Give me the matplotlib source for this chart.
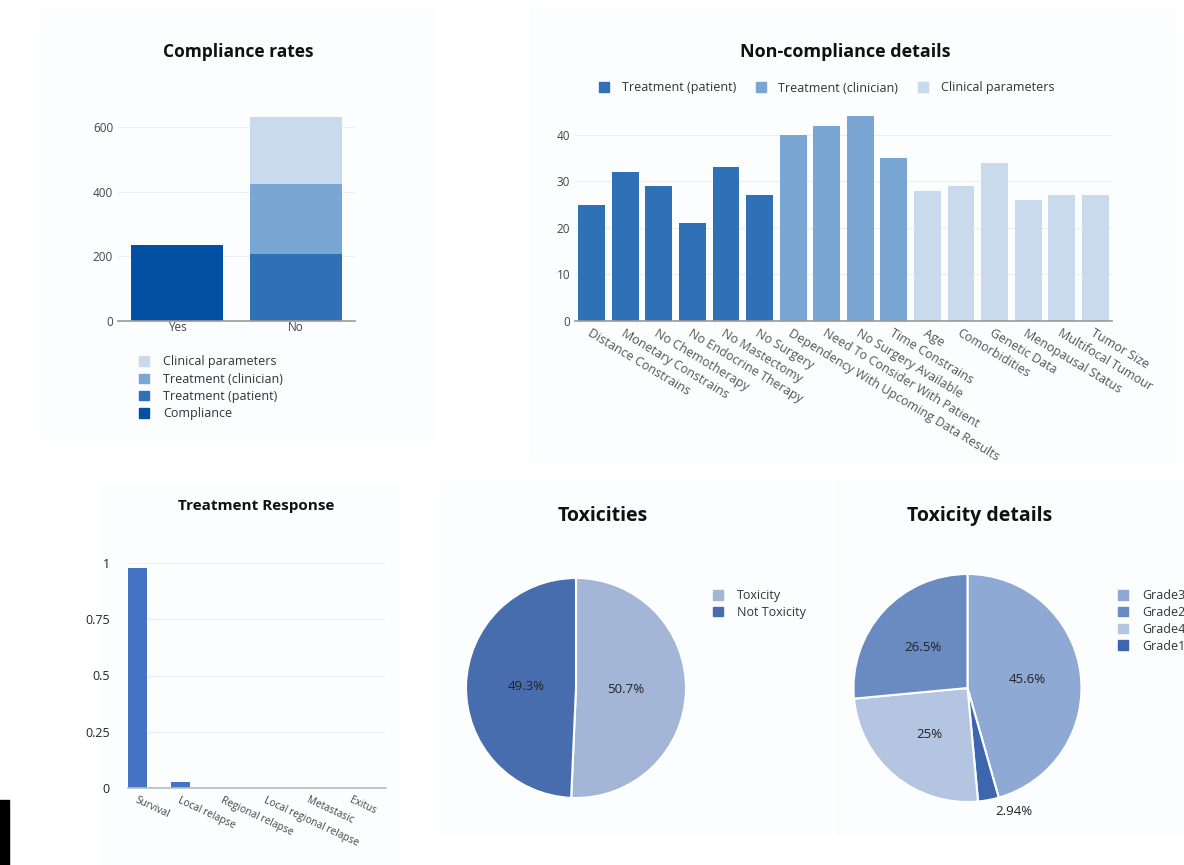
import matplotlib
matplotlib.use("Agg")
import matplotlib.pyplot as plt
from matplotlib.patches import Patch, Rectangle
import numpy as np

plt.rcParams["font.family"] = ["Open Sans", "DejaVu Sans"]

# ---------------- data ----------------
comp_cats = ["Yes", "No"]
comp_compliance = [236, 0]
comp_patient = [0, 208]
comp_clinician = [0, 215]
comp_clinical = [0, 208]

detail_labels = ["Distance Constrains", "Monetary Constrains", "No Chemotherapy",
                 "No Endocrine Therapy", "No Mastectomy", "No Surgery",
                 "Dependency With Upcoming Data Results", "Need To Consider With Patient",
                 "No Surgery Available", "Time Constrains",
                 "Age", "Comorbidities", "Genetic Data", "Menopausal Status",
                 "Multifocal Tumour", "Tumor Size"]
detail_values = [25, 32, 29, 21, 33, 27, 40, 42, 44, 35, 28, 29, 34, 26, 27, 27]
detail_group = ["patient"] * 6 + ["clinician"] * 4 + ["clinical"] * 6

resp_labels = ["Survival", "Local relapse", "Regional relapse",
               "Local regional relapse", "Metastasic", "Exitus"]
resp_values = [0.98, 0.027, 0, 0, 0, 0]

tox_labels = ["Toxicity", "Not Toxicity"]
tox_values = [50.7, 49.3]

grade_labels = ["Grade3", "Grade1", "Grade4", "Grade2"]
grade_values = [45.6, 2.94, 25.0, 26.5]
grade_legend_order = ["Grade3", "Grade2", "Grade4", "Grade1"]

# ---------------- colours ----------------
C_COMPLIANCE = "#0250a3"
C_PATIENT = "#2f70b7"
C_CLINICIAN = "#7aa6d3"
C_CLINICAL = "#c9daed"
group_colors = {"patient": C_PATIENT, "clinician": C_CLINICIAN, "clinical": C_CLINICAL}
tox_colors = ["#a3b6d8", "#486dae"]
grade_colors = {"Grade3": "#8ea9d3", "Grade1": "#3e66ae", "Grade4": "#b4c5e1", "Grade2": "#6a8bc1"}

W, H = 1184, 865
fig = plt.figure(figsize=(W / 100, H / 100), dpi=100)
fig.patch.set_facecolor("white")


def px_axes(x0, y0, x1, y1):
    return fig.add_axes([x0 / W, 1 - y1 / H, (x1 - x0) / W, (y1 - y0) / H])


def fx(x):
    return x / W


def fy(y):
    return 1 - y / H


# faint panel backgrounds (screenshot look)
for (x0, y0, x1, y1) in [(40, 8, 435, 440), (530, 8, 1175, 460), (100, 485, 400, 865),
                         (440, 480, 830, 835), (835, 480, 1184, 835)]:
    fig.patches.append(Rectangle((fx(x0), fy(y1)), (x1 - x0) / W, (y1 - y0) / H,
                                 transform=fig.transFigure, color="#fcfdfe", zorder=-5))
fig.patches.append(Rectangle((0, 0), 9 / W, 65 / H, transform=fig.transFigure,
                             color="black", zorder=5))

TICK_C = "#444444"
GRID_C = "#eeeeee"
LEG_FS = 9


def style_bar_axes(ax):
    ax.set_facecolor("none")
    for s in ["top", "right", "left"]:
        ax.spines[s].set_visible(False)
    ax.spines["bottom"].set_color("#999999")
    ax.spines["bottom"].set_linewidth(1.2)
    ax.yaxis.grid(True, color=GRID_C, linewidth=0.8)
    ax.set_axisbelow(True)
    ax.tick_params(axis="y", length=0, colors=TICK_C, labelsize=8.5)
    ax.tick_params(axis="x", length=0, colors=TICK_C, labelsize=8.5)


# ---------------- Compliance rates ----------------
ax1 = px_axes(118, 114, 355, 321)
xs = range(len(comp_cats))
bw = 0.78
ax1.bar(xs, comp_compliance, bw, color=C_COMPLIANCE)
ax1.bar(xs, comp_patient, bw, color=C_PATIENT)
b2 = [a + b for a, b in zip(comp_compliance, comp_patient)]
ax1.bar(xs, comp_clinician, bw, bottom=b2, color=C_CLINICIAN)
b3 = [a + b for a, b in zip(b2, comp_clinician)]
ax1.bar(xs, comp_clinical, bw, bottom=b3, color=C_CLINICAL)
ax1.set_xlim(-0.5, 1.5)
ax1.set_ylim(0, 640)
ax1.set_yticks([0, 200, 400, 600])
ax1.set_xticks(list(xs))
ax1.set_xticklabels(comp_cats)
style_bar_axes(ax1)
ax1.tick_params(axis="x", pad=0)
fig.text(fx(238), fy(52), "Compliance rates", ha="center", va="center",
         fontsize=12.5, fontweight="bold", color="#111111")
h1 = [Patch(color=C_CLINICAL), Patch(color=C_CLINICIAN), Patch(color=C_PATIENT),
      Patch(color=C_COMPLIANCE)]
fig.legend(h1, ["Clinical parameters", "Treatment (clinician)", "Treatment (patient)", "Compliance"],
           loc="upper left", bbox_to_anchor=(fx(128), fy(344)), frameon=False,
           fontsize=LEG_FS, handlelength=0.8, handleheight=0.8, handletextpad=1.1,
           labelspacing=0.35, labelcolor="#333333")

# ---------------- Non-compliance details ----------------
ax2 = px_axes(575, 107, 1112, 321)
xd = range(len(detail_values))
ax2.bar(xd, detail_values, 0.8, color=[group_colors[g] for g in detail_group])
ax2.set_xlim(-0.5, len(detail_values) - 0.5)
ax2.set_ylim(0, 46)
ax2.set_yticks([0, 10, 20, 30, 40])
ax2.set_xticks(list(xd))
ax2.set_xticklabels(detail_labels, rotation=-31, ha="left", va="top",
                    rotation_mode="anchor")
style_bar_axes(ax2)
ax2.tick_params(axis="x", pad=4, colors="#555555", labelsize=9)
fig.text(fx(845), fy(52), "Non-compliance details", ha="center", va="center",
         fontsize=13, fontweight="bold", color="#111111")
h2 = [Patch(color=C_PATIENT), Patch(color=C_CLINICIAN), Patch(color=C_CLINICAL)]
fig.legend(h2, ["Treatment (patient)", "Treatment (clinician)", "Clinical parameters"],
           loc="center left", bbox_to_anchor=(fx(588), fy(88)), frameon=False, ncol=3,
           fontsize=LEG_FS, handlelength=0.8, handleheight=0.8, handletextpad=1.0,
           columnspacing=1.6, labelcolor="#333333")

# ---------------- Treatment Response ----------------
ax3 = px_axes(128, 563, 386, 788)
xr = range(len(resp_values))
ax3.bar(xr, resp_values, 0.44, color="#4472c4")
ax3.set_xlim(-0.22, len(resp_values) - 0.22)
ax3.set_ylim(0, 1.0)
ax3.set_yticks([0, 0.25, 0.5, 0.75, 1])
ax3.set_yticklabels(["0", "0.25", "0.5", "0.75", "1"])
ax3.set_xticks(list(xr))
ax3.set_xticklabels(resp_labels, rotation=-25, ha="left", va="top",
                    rotation_mode="anchor")
style_bar_axes(ax3)
ax3.spines["bottom"].set_color("#bbbbbb")
ax3.tick_params(axis="y", labelsize=9, colors="#222222", pad=13)
ax3.tick_params(axis="x", labelsize=7.3, colors="#444444", pad=5)
fig.text(fx(256), fy(506), "Treatment Response", ha="center", va="center",
         fontsize=11, fontweight="bold", color="#111111")

# ---------------- Toxicities ----------------
ax4 = px_axes(466, 578, 686, 798)
w4, t4, a4 = ax4.pie(tox_values, colors=tox_colors, startangle=90, counterclock=False,
                     autopct=lambda p: f"{p:.3g}%", pctdistance=0.45,
                     wedgeprops=dict(edgecolor="white", linewidth=1.5),
                     textprops=dict(fontsize=9.5, color="#222222"))
ax4.set_xlim(-1, 1)
ax4.set_ylim(-1, 1)
fig.text(fx(603), fy(516), "Toxicities", ha="center", va="center",
         fontsize=14, fontweight="bold", color="#111111")
fig.legend([Patch(color=c) for c in tox_colors], tox_labels, loc="upper left",
           bbox_to_anchor=(fx(702), fy(578)), frameon=False, fontsize=LEG_FS,
           handlelength=0.8, handleheight=0.8, handletextpad=1.1, labelspacing=0.3,
           labelcolor="#333333")

# ---------------- Toxicity details ----------------
ax5 = px_axes(853, 574, 1082, 802)
w5, t5, a5 = ax5.pie(grade_values, colors=[grade_colors[g] for g in grade_labels],
                     startangle=90, counterclock=False,
                     autopct=lambda p: f"{p:.3g}%", pctdistance=0.53,
                     wedgeprops=dict(edgecolor="white", linewidth=1.5),
                     textprops=dict(fontsize=9.5, color="#222222"))
# small slice label goes outside
for wedge, txt in zip(w5, a5):
    if wedge.theta2 - wedge.theta1 < 15:
        mid = np.deg2rad((wedge.theta1 + wedge.theta2) / 2)
        txt.set_position((1.1 * np.cos(mid) + 0.2, 1.1 * np.sin(mid)))
ax5.set_xlim(-1, 1)
ax5.set_ylim(-1, 1)
fig.text(fx(980), fy(516), "Toxicity details", ha="center", va="center",
         fontsize=14, fontweight="bold", color="#111111")
fig.legend([Patch(color=grade_colors[g]) for g in grade_legend_order], grade_legend_order,
           loc="upper left", bbox_to_anchor=(fx(1107), fy(578)), frameon=False,
           fontsize=LEG_FS, handlelength=0.8, handleheight=0.8, handletextpad=1.1,
           labelspacing=0.3, labelcolor="#333333")

fig.savefig("out.png", dpi=100)
